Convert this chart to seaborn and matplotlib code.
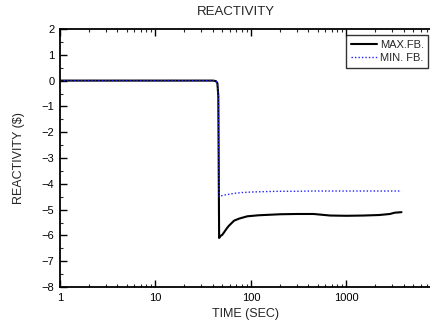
import numpy as np
import pandas as pd
import matplotlib
matplotlib.use("Agg")
import matplotlib.pyplot as plt
import seaborn as sns
from matplotlib.ticker import LogLocator, FixedLocator, FixedFormatter, MultipleLocator

# ---- data ----
t_max = [1, 10, 40, 43, 44.5, 45.5, 46.4, 48, 50, 52.3, 56, 59, 66.5, 75, 91.5,
         120, 204, 300, 453, 676, 1000, 1503, 2200, 2852, 3200, 3770]
v_max = [0, 0, 0, -0.02, -0.1, -0.6, -6.1, -6.02, -5.98, -5.88, -5.72, -5.62, -5.43,
         -5.35, -5.26, -5.22, -5.18, -5.17, -5.17, -5.23, -5.24, -5.23, -5.21,
         -5.17, -5.12, -5.1]

t_min = [1, 10, 40, 43, 44.5, 45.5, 46.4, 48, 52, 60, 66.5, 80, 100, 150, 200,
         300, 453, 1000, 2000, 3770]
v_min = [0, 0, 0, -0.02, -0.1, -0.6, -4.5, -4.47, -4.44, -4.4, -4.37, -4.34, -4.32,
         -4.3, -4.29, -4.29, -4.28, -4.28, -4.28, -4.28]

series_names = ["MAX.FB.", "MIN. FB."]
x_ticks = [1, 10, 100, 1000]
x_tick_labels = ["1", "10", "100", "1000"]
y_ticks = [2, 1, 0, -1, -2, -3, -4, -5, -6, -7, -8]

title = "REACTIVITY"
xlabel = "TIME (SEC)"
ylabel = "REACTIVITY ($)"

df_max = pd.DataFrame({"t": t_max, "v": v_max})
df_min = pd.DataFrame({"t": t_min, "v": v_min})

sns.set_style("white")
plt.rcParams["font.family"] = ["Liberation Sans", "DejaVu Sans"]

fig = plt.figure(figsize=(4.30, 3.29), dpi=100)
ax = fig.add_axes([60/430, 1-287/329, 1-60/430, (287-29)/329])

sns.lineplot(data=df_max, x="t", y="v", ax=ax, color="black", lw=1.5,
             sort=False, estimator=None, label=series_names[0])
sns.lineplot(data=df_min, x="t", y="v", ax=ax, color="#2020ff", lw=1.0,
             linestyle=(0, (1, 1.5)), sort=False, estimator=None, label=series_names[1])

ax.set_xscale("log")
ax.set_xlim(1, 7500)
ax.set_ylim(-8, 2)

ax.xaxis.set_major_locator(FixedLocator(x_ticks))
ax.xaxis.set_major_formatter(FixedFormatter(x_tick_labels))
ax.xaxis.set_minor_locator(LogLocator(base=10, subs=np.arange(2, 10)))
ax.yaxis.set_major_locator(FixedLocator(y_ticks))
ax.yaxis.set_minor_locator(MultipleLocator(0.5))

ax.tick_params(which="major", direction="in", length=5, width=1, labelsize=8,
               top=True, right=False, left=True, bottom=True, pad=4, colors="black")
ax.tick_params(which="minor", direction="in", length=2.5, width=0.8,
               top=True, right=False, left=True, bottom=True)

for side in ["left", "bottom", "top"]:
    ax.spines[side].set_visible(True)
    ax.spines[side].set_color("black")
    ax.spines[side].set_linewidth(1.3)
ax.spines["right"].set_visible(False)

ax.set_xlabel(xlabel, fontsize=9, labelpad=4)
ax.set_ylabel(ylabel, fontsize=9, labelpad=12)
fig.text(236/430, 1-12/329, title, ha="center", va="center", fontsize=9.5)

leg = ax.legend(loc="upper right", bbox_to_anchor=(0.995, 0.975), fontsize=8,
                frameon=True, fancybox=False, handlelength=2.4, handletextpad=0.2,
                borderpad=0.4, labelspacing=0.3, borderaxespad=0)
leg.get_frame().set_edgecolor("black")
leg.get_frame().set_linewidth(1.0)

fig.savefig("out.png", dpi=100)
